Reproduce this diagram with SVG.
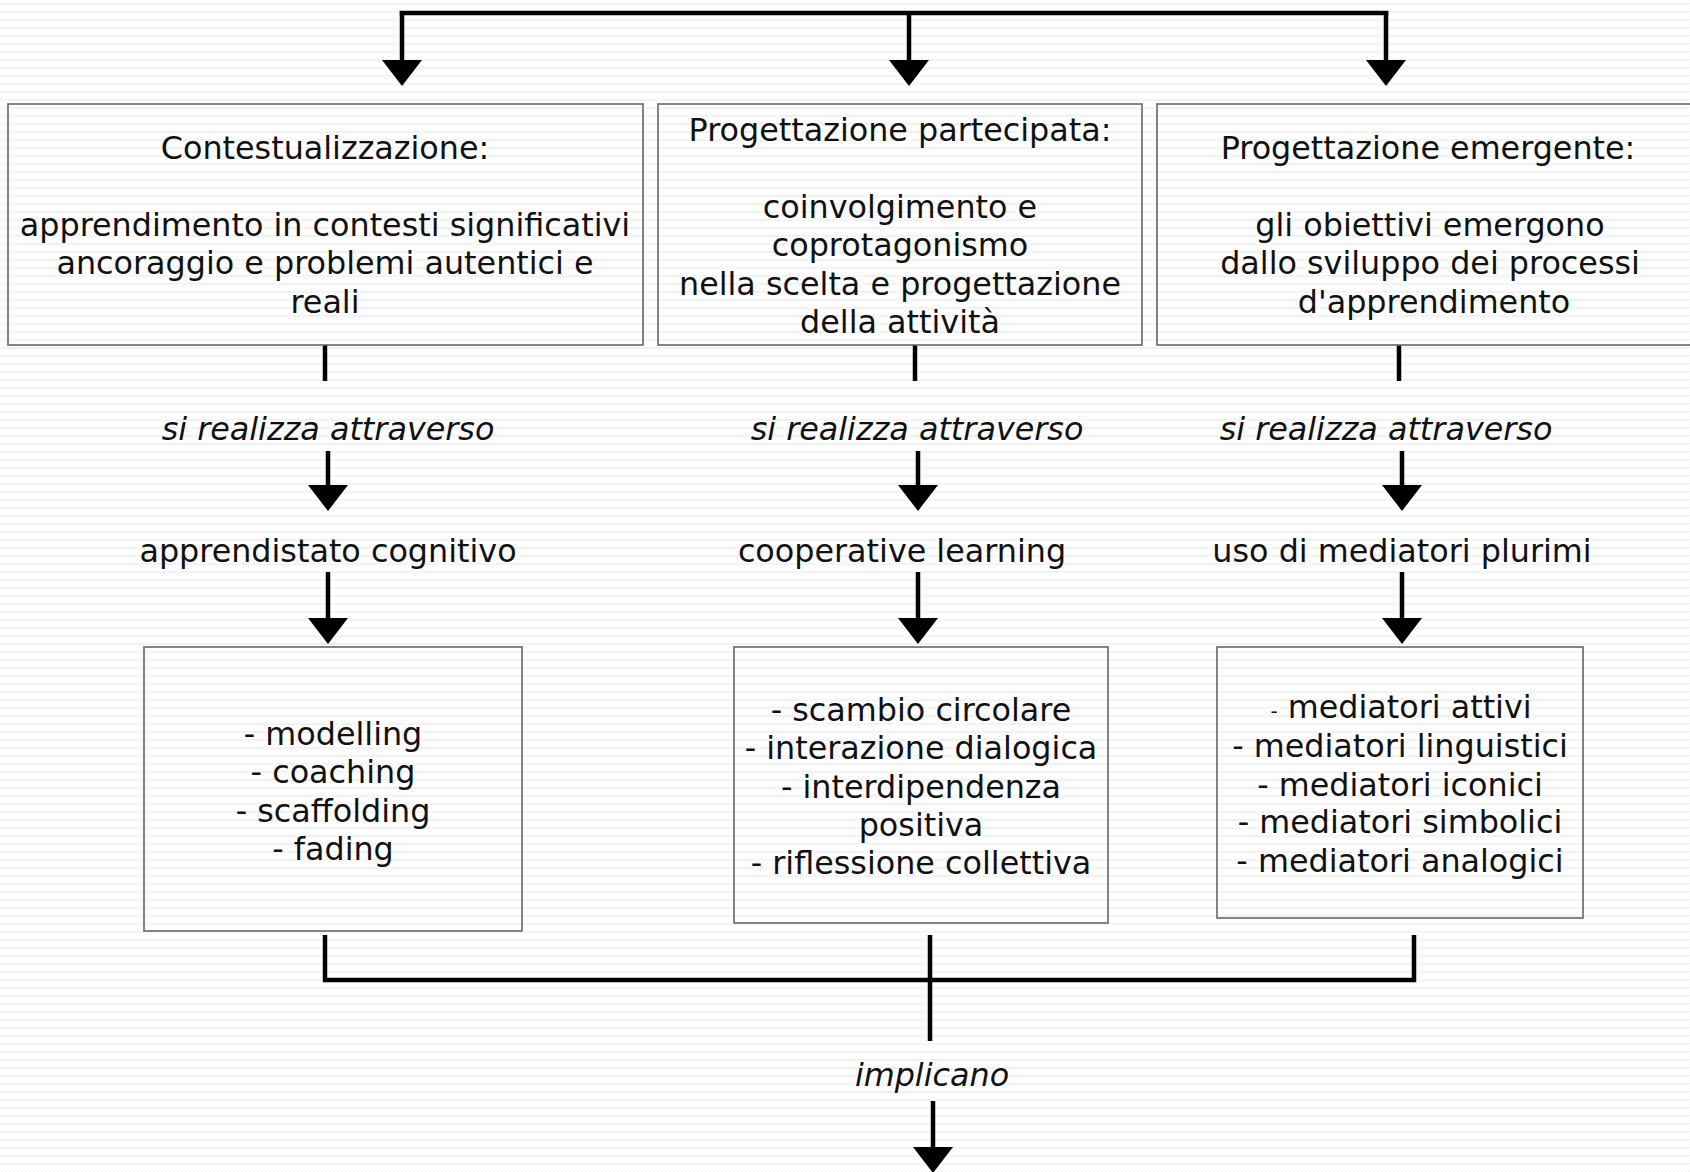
<svg xmlns="http://www.w3.org/2000/svg" width="1690" height="1172" viewBox="0 0 1690 1172">
<style>
.t{font-family:"DejaVu Sans","Verdana",sans-serif;font-size:31.8px;fill:#111;text-anchor:middle}
.i{font-style:italic}
.box{fill:none;stroke:#666;stroke-width:1.6}
.ln{stroke:#000;stroke-width:4.5;fill:none}
.ar{stroke:#000;stroke-width:4.5;fill:none;marker-end:url(#ah)}
</style>
<defs>
<pattern id="bg" width="8" height="8" patternUnits="userSpaceOnUse">
<polyline points="0,5 2,3 4,5 6,3 8,5" fill="none" stroke="#ececec" stroke-width="1"/>
</pattern>
<marker id="ah" viewBox="0 0 26 40" refX="20" refY="20" markerWidth="26" markerHeight="40" markerUnits="userSpaceOnUse" orient="auto">
<path d="M0,0 L26,20 L0,40 Z" fill="#000"/>
</marker>
</defs>
<rect width="1690" height="1172" fill="#fff"/>
<rect width="1690" height="1172" fill="url(#bg)"/>

<g id="connectors">
<path class="ln" d="M402,13 H1386" stroke-linecap="square"/>
<path class="ar" d="M402,11 V80"/>
<path class="ar" d="M909,11 V80"/>
<path class="ar" d="M1386,11 V80"/>
<path class="ln" d="M325,345 V381"/>
<path class="ln" d="M915,345 V381"/>
<path class="ln" d="M1399,345 V381"/>
<path class="ar" d="M328,451 V505"/>
<path class="ar" d="M918,451 V505"/>
<path class="ar" d="M1402,451 V505"/>
<path class="ar" d="M328,572 V638"/>
<path class="ar" d="M918,572 V638"/>
<path class="ar" d="M1402,572 V638"/>
<path class="ln" d="M325,935 V980 H1414 V935"/>
<path class="ln" d="M930,935 V1041"/>
<path class="ar" d="M933,1101 V1167"/>
</g>

<g id="n-contestualizzazione">
<rect class="box" x="8" y="104" width="635" height="241"/>
<text class="t" x="325" y="159">Contestualizzazione:</text>
<text class="t" x="325" y="236">apprendimento in contesti significativi</text>
<text class="t" x="325" y="274">ancoraggio e problemi autentici e</text>
<text class="t" x="325" y="313">reali</text>
</g>

<g id="n-partecipata">
<rect class="box" x="658" y="104" width="484" height="241"/>
<text class="t" x="900" y="141">Progettazione partecipata:</text>
<text class="t" x="900" y="218">coinvolgimento e</text>
<text class="t" x="900" y="256">coprotagonismo</text>
<text class="t" x="900" y="295">nella scelta e progettazione</text>
<text class="t" x="900" y="333">della attività</text>
</g>

<g id="n-emergente">
<rect class="box" x="1157" y="104" width="545" height="241"/>
<text class="t" x="1428" y="159">Progettazione emergente:</text>
<text class="t" x="1430" y="236">gli obiettivi emergono</text>
<text class="t" x="1430" y="274">dallo sviluppo dei processi</text>
<text class="t" x="1434" y="313">d'apprendimento</text>
</g>

<g id="l-realizza1"><text class="t i" x="328" y="440">si realizza attraverso</text></g>
<g id="l-realizza2"><text class="t i" x="917" y="440">si realizza attraverso</text></g>
<g id="l-realizza3"><text class="t i" x="1386" y="440">si realizza attraverso</text></g>

<g id="n-apprendistato"><text class="t" x="328" y="562">apprendistato cognitivo</text></g>
<g id="n-cooperative"><text class="t" x="902" y="562">cooperative learning</text></g>
<g id="n-mediatori"><text class="t" x="1402" y="562">uso di mediatori plurimi</text></g>

<g id="n-modelling">
<rect class="box" x="144" y="647" width="378" height="284"/>
<text class="t" x="333" y="745">- modelling</text>
<text class="t" x="333" y="783">- coaching</text>
<text class="t" x="333" y="822">- scaffolding</text>
<text class="t" x="333" y="860">- fading</text>
</g>

<g id="n-scambio">
<rect class="box" x="734" y="647" width="374" height="276"/>
<text class="t" x="921" y="721">- scambio circolare</text>
<text class="t" x="921" y="759">- interazione dialogica</text>
<text class="t" x="921" y="798">- interdipendenza</text>
<text class="t" x="921" y="836">positiva</text>
<text class="t" x="921" y="874">- riflessione collettiva</text>
</g>

<g id="n-mediatori-list">
<rect class="box" x="1217" y="647" width="366" height="271"/>
<text class="t" x="1401" y="718"><tspan font-size="20">-</tspan> mediatori attivi</text>
<text class="t" x="1400" y="757">- mediatori linguistici</text>
<text class="t" x="1400" y="796">- mediatori iconici</text>
<text class="t" x="1400" y="833">- mediatori simbolici</text>
<text class="t" x="1400" y="872">- mediatori analogici</text>
</g>

<g id="l-implicano"><text class="t i" x="932" y="1086">implicano</text></g>
</svg>
